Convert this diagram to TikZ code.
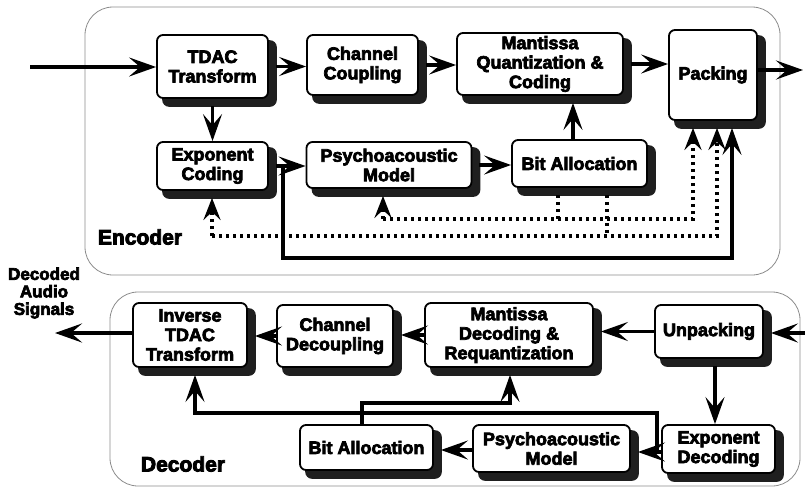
\documentclass[tikz,border=0pt]{standalone}
\usepackage{fontspec}
\setmainfont{Liberation Sans}[BoldFeatures={FakeBold=4}]
\usetikzlibrary{arrows.meta,calc,backgrounds}

\begin{document}
\begin{tikzpicture}[x=1pt,y=-1pt,
  blk/.style={draw=black, line width=1.8pt, rounded corners=6pt, fill=white,
    align=center, inner sep=0pt,
    font=\bfseries\fontsize{18}{19.5}\selectfont},
  shade box/.style={fill=black!88, draw=black!88, line width=1.8pt, rounded corners=6pt},
  flow/.style={line width=3.4pt, -{Stealth[length=27pt,width=19pt,inset=11pt]}},
  dotflow/.style={line width=3.4pt, dash pattern=on 3.4pt off 3.6pt,
    -{Stealth[length=22pt,width=17pt,inset=8pt]}},
  dotwire/.style={line width=3.4pt, dash pattern=on 3.4pt off 3.6pt},
  group/.style={draw=black!45, line width=0.8pt, rounded corners=28pt},
  title/.style={font=\bfseries\fontsize{21}{24}\selectfont},
]
\useasboundingbox (0,0) rectangle (805,488);

% ---------- enclosures ----------
\draw[group] (85,7) rectangle (780,275);
\draw[group] (110,292) rectangle (800,486);

% ---------- encoder blocks ----------
\node[blk, minimum width=111pt, minimum height=63pt] (tdac) at (212.5,66.5) {TDAC\\Transform};
\node[blk, minimum width=111pt, minimum height=60pt] (cc)   at (362.5,65)   {Channel\\Coupling};
\node[blk, minimum width=166pt, minimum height=62pt] (mq)   at (540,64)     {Mantissa\\Quantization \&\\Coding};
\node[blk, minimum width=88pt,  minimum height=90pt] (pk)   at (713,75)     {Packing};
\node[blk, minimum width=111pt, minimum height=48pt] (ec)   at (212.5,166)  {Exponent\\Coding};
\node[blk, minimum width=165pt, minimum height=46pt] (pm)   at (389,165)    {Psychoacoustic\\Model};
\node[blk, minimum width=135pt, minimum height=47pt] (ba)   at (579.5,163.5){Bit Allocation};

% ---------- decoder blocks ----------
\node[blk, minimum width=114pt, minimum height=64pt] (itd) at (190,335)    {Inverse\\TDAC\\Transform};
\node[blk, minimum width=116pt, minimum height=62pt] (cd)  at (335,336)    {Channel\\Decoupling};
\node[blk, minimum width=168pt, minimum height=64pt] (md)  at (509,335)    {Mantissa\\Decoding \&\\Requantization};
\node[blk, minimum width=108pt, minimum height=53pt] (up)  at (709,331.5)  {Unpacking};
\node[blk, minimum width=133pt, minimum height=45pt] (bad) at (366.5,447.5){Bit Allocation};
\node[blk, minimum width=157pt, minimum height=47pt] (pmd) at (551.5,448.5){Psychoacoustic\\Model};
\node[blk, minimum width=113pt, minimum height=48pt] (ed)  at (718.5,449)  {Exponent\\Decoding};

% ---------- block shadows ----------
\begin{scope}[on background layer]
  \foreach \b in {tdac,cc,mq,pk,ec,pm,ba,itd,cd,md,up,bad,pmd,ed}
    \draw[shade box] ($(\b.north west)+(7,7)$) rectangle ($(\b.south east)+(7,7)$);
\end{scope}

% ---------- labels ----------
\node[title] (enc) at (140,237) {Encoder};
\node[title] (dec) at (183,464) {Decoder};
\node[align=center, font=\bfseries\fontsize{17}{17.5}\selectfont] (das) at (44,293) {Decoded\\Audio\\Signals};

% ---------- encoder connections ----------
\coordinate (in)  at (30,67);
\coordinate (out) at (803,70);
\draw[flow] (in) -- (in -| tdac.west);
\draw[flow] ([xshift=7pt]tdac.east) -- (tdac.east -| cc.west);
\draw[flow] ([xshift=7pt]cc.east) -- (cc.east -| mq.west);
\draw[flow] ([xshift=7pt]mq.east) -- (mq.east -| pk.west);
\draw[flow] (pk.east |- out) -- (out);
\draw[flow] ($(tdac.south)+(0,7)$) -- (ec.north);
\draw[flow] ([xshift=7pt]ec.east) -- (ec.east -| pm.west);
\draw[flow] ([xshift=7pt]pm.east) -- (pm.east -| ba.west);
\draw[flow] (573,0 |- ba.north) -- ($(573,0 |- mq.south)+(0,7)$);

% exponents straight to the packer
\coordinate (s1) at (283,258);
\draw[flow] (s1 |- ec.east) -- (s1) -| ($(pk.south)+(19,7)$);

% bit allocation side information
\coordinate (d1) at (383,219);
\coordinate (d2) at (212,236);
\draw[dotwire] ($(ba.south)+(-21.5,7)$) -- (558,219);
\draw[dotwire] ($(ba.south)+(27.5,7)$) -- (607,236);
\draw[dotflow] (d1) -- ($(pm.south)+(-6,7)$);
\draw[dotflow] (d1) -| ($(pk.south)+(-20,7)$);
\draw[dotflow] (d2) -- ($(ec.south)+(-0.5,7)$);
\draw[dotflow] (d2) -| ($(pk.south)+(4,7)$);

% ---------- decoder connections ----------
\coordinate (din)  at (805,333);
\coordinate (dout) at (55,333);
\draw[flow] (din) -- ($(up.east |- din)+(7,0)$);
\draw[flow] (up.west) -- ($(up.west -| md.east)+(7,0)$);
\draw[flow] (md.west) -- ($(md.west -| cd.east)+(7,0)$);
\draw[flow] (cd.west) -- ($(cd.west -| itd.east)+(7,0)$);
\draw[flow] (itd.west |- dout) -- (dout);
\draw[flow] ($(715,0 |- up.south)+(0,7)$) -- (715,0 |- ed.north);
\draw[flow] (ed.west |- 0,452) -- ($(pmd.east |- 0,452)+(7,0)$);
\draw[flow] (pmd.west |- 0,450) -- ($(bad.east |- 0,450)+(7,0)$);

\coordinate (f1) at (657,413);
\draw[flow] (f1 |- 0,452) -- (f1) -| ($(itd.south)+(5,7)$);
\coordinate (f2) at (362,403);
\draw[flow] (f2 |- bad.north) -- (f2) -| ($(md.south)+(1,7)$);
\end{tikzpicture}
\end{document}
